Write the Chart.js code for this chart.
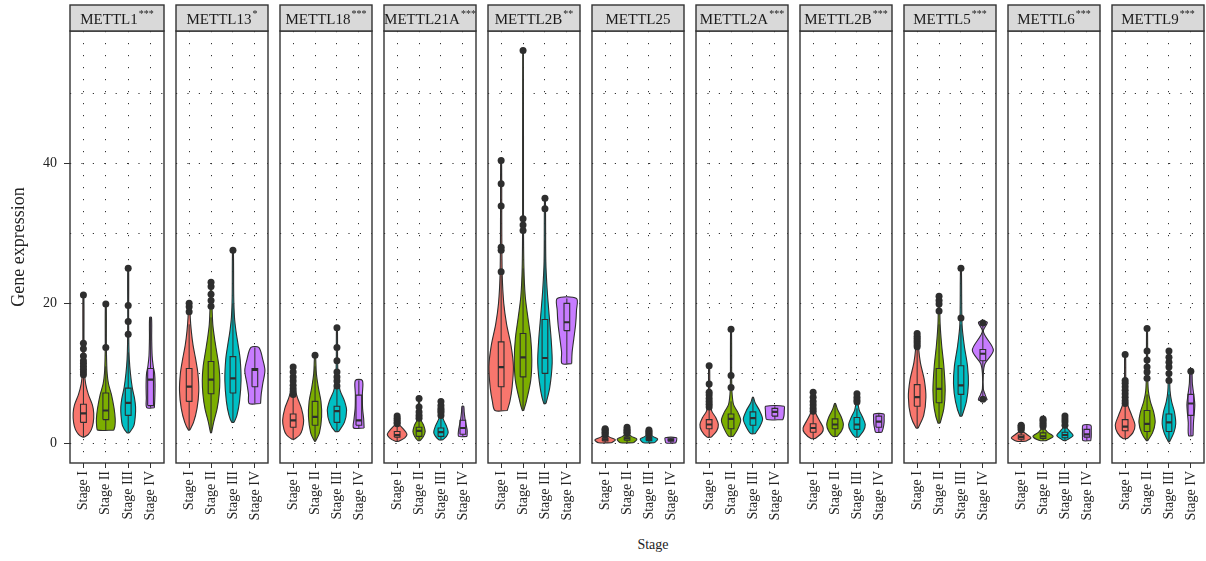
<!DOCTYPE html>
<html><head><meta charset="utf-8">
<script src="https://cdn.jsdelivr.net/npm/chart.js@4/dist/chart.umd.min.js"></script>
<style>
html,body{margin:0;padding:0;background:#fff;}
#wrap{position:relative;width:1206px;height:561px;overflow:hidden;background:#fff;}
#wrap canvas{position:absolute;top:0;}
#xtitle{position:absolute;top:537px;left:603px;width:100px;text-align:center;font:14px 'Liberation Serif',serif;color:#222;}
</style></head><body>
<div id="wrap"><div id="xtitle">Stage</div></div>
<script>
// ---------------- DATA ----------------
const stages = ['Stage I', 'Stage II', 'Stage III', 'Stage IV'];
const genes = ['METTL1','METTL13','METTL18','METTL21A','METTL2B','METTL25','METTL2A','METTL2B','METTL5','METTL6','METTL9'];
const signif = ['***','*','***','***','**','','***','***','***','***','***'];
const yTickValues = [0, 10, 20, 30, 40, 50];

// box stats per stage: [lower whisker, Q1, median, Q3, upper whisker]
const boxMETTL1   = [[0.9,3.0,4.3,5.6,9.5],[1.9,3.4,4.7,7.2,11],[1.5,4.0,5.8,7.9,13],[5.1,5.4,9.1,10.7,18]];
const boxMETTL13  = [[1.9,6.0,8.1,10.7,17],[1.5,7.1,9.1,11.7,18],[3.0,7.2,9.3,12.4,20],[5.7,8.1,10.5,10.7,13.7]];
const boxMETTL18  = [[0.6,2.3,3.3,4.2,6.8],[0.3,2.6,3.8,6.0,11],[1.7,3.0,4.6,5.3,8.0],[2.2,2.6,3.3,6.9,9.0]];
const boxMETTL21A = [[0.3,0.9,1.2,1.7,2.7],[0.4,1.0,1.8,2.3,3.5],[0.5,1.0,1.6,2.2,3.8],[1.0,1.3,2.2,3.3,5.3]];
const boxMETTL2Ba = [[4.7,8.1,10.9,14.5,24],[4.7,9.5,12.3,15.7,25],[5.7,10.0,12.2,17.7,29],[11.4,16.1,17.3,20.0,20.7]];
const boxMETTL25  = [[0.1,0.35,0.55,0.75,1.1],[0.1,0.45,0.7,0.9,1.3],[0.1,0.4,0.6,0.85,1.2],[0.05,0.3,0.5,0.65,0.8]];
const boxMETTL2A  = [[0.9,2.1,2.7,3.4,5.0],[1.0,2.1,3.5,4.2,6.0],[1.4,2.6,3.6,4.5,6.6],[3.4,3.9,4.5,5.0,5.3]];
const boxMETTL2Bb = [[0.7,1.6,2.2,2.8,4.5],[1.0,2.1,2.7,3.5,5.7],[0.9,2.0,2.7,3.7,5.0],[1.6,2.3,3.1,3.9,4.2]];
const boxMETTL5   = [[2.2,5.3,6.6,8.4,13.5],[2.9,5.8,7.8,10.7,17],[3.9,7.0,8.3,11.1,17],[6.3,11.8,12.8,13.4,17.3]];
const boxMETTL6   = [[0.3,0.6,0.9,1.2,1.8],[0.4,0.7,1.0,1.5,2.3],[0.4,0.8,1.2,1.6,2.4],[0.4,0.9,1.3,2.0,2.6]];
const boxMETTL9   = [[0.7,1.8,2.4,3.4,5.5],[0.4,1.7,2.8,4.7,7.0],[0.2,1.7,3.0,4.2,7.0],[1.1,4.0,5.7,7.0,10.4]];

// outliers per stage
const outMETTL1   = [[9.8,10.2,10.6,11.0,11.4,11.8,12.5,13.5,14.3,21.2],[13.7,19.9],[15.6,17.4,19.7,25.0],[]];
const outMETTL13  = [[18.8,19.5,20.0],[19.6,20.4,21.3,22.4,23.0],[27.6],[]];
const outMETTL18  = [[7.0,7.4,7.8,8.3,8.9,9.5,10.2,10.9],[12.6],[8.2,8.9,9.5,10.2,11.8,13.7,16.5],[]];
const outMETTL21A = [[2.8,3.0,3.3,3.6,3.9],[3.6,4.0,4.5,5.2,6.4],[4.0,4.4,4.7,5.0,5.4,6.0],[]];
const outMETTL2Ba = [[24.5,27.6,28.0,33.9,37.1,40.4],[30.4,31.2,32.1,56.1],[33.5,35.0],[]];
const outMETTL25  = [[1.2,1.4,1.6,1.8,2.0,2.1],[1.4,1.6,1.8,2.0,2.3],[1.3,1.5,1.7,1.9],[]];
const outMETTL2A  = [[5.2,5.6,6.0,6.4,6.9,7.3,8.5,11.1],[8.0,9.7,16.3],[],[]];
const outMETTL2Bb = [[4.6,5.0,5.5,6.0,6.6,7.3],[],[5.9,6.2,6.6,7.1],[]];
const outMETTL5   = [[13.8,14.1,14.4,14.7,15.0,15.3,15.7],[18.9,19.9,20.4,21.0],[17.9,25.0],[6.3,17.2]];
const outMETTL6   = [[1.9,2.1,2.3,2.5,2.6],[2.4,2.7,3.0,3.3,3.5],[2.6,3.1,3.5,3.9],[]];
const outMETTL9   = [[5.7,6.1,6.6,7.1,7.6,8.1,8.6,9.0,12.7],[9.3,10.2,10.9,11.9,13.2,16.4],[9.0,10.0,10.9,11.6,12.3,13.2],[10.3]];

// violin density profiles per stage: [expression value, half-width in stage units]
const vioMETTL1 = [
  [[0.9,0.04],[1.3,0.22],[2,0.36],[3,0.44],[4.3,0.46],[5.5,0.4],[7,0.22],[8.5,0.1],[10,0.05],[12,0.035],[15,0.025],[21.2,0.02]],
  [[1.9,0.36],[2.5,0.41],[3.5,0.42],[5,0.37],[7,0.25],[8.5,0.12],[10,0.06],[12,0.035],[14,0.025],[19.9,0.02]],
  [[1.5,0.05],[2.5,0.25],[4,0.32],[5.2,0.33],[6.5,0.28],[8,0.18],[10,0.1],[12,0.05],[14,0.03],[18,0.02],[25,0.02]],
  [[5.1,0.17],[6.5,0.19],[8.5,0.2],[10,0.18],[11,0.12],[12.5,0.07],[15,0.05],[18,0.04]]];
const vioMETTL13 = [
  [[1.9,0.03],[3,0.2],[5,0.36],[7.5,0.44],[10,0.4],[12,0.3],[14,0.18],[16,0.1],[18,0.05],[20,0.03]],
  [[1.5,0.02],[3,0.12],[5,0.28],[7,0.37],[9,0.4],[11,0.36],[13,0.26],[15,0.16],[17,0.08],[20,0.04],[23,0.02]],
  [[3,0.05],[4,0.18],[6,0.3],[9,0.37],[12,0.33],[14,0.24],[16,0.14],[18,0.07],[21,0.035],[27.6,0.02]],
  [[5.7,0.26],[7,0.29],[8.5,0.36],[10.4,0.46],[12,0.36],[13.7,0.18]]];
const vioMETTL18 = [
  [[0.6,0.05],[1.2,0.3],[2,0.42],[3.3,0.48],[5,0.38],[6.5,0.2],[8,0.07],[9.5,0.035],[10.9,0.02]],
  [[0.3,0.02],[1.5,0.2],[3.8,0.3],[6,0.27],[8,0.15],[10,0.06],[12.6,0.02]],
  [[1.7,0.08],[3,0.34],[4.7,0.44],[6,0.35],[7.5,0.15],[9,0.06],[12,0.03],[16.5,0.02]],
  [[2.2,0.24],[3.5,0.22],[5,0.17],[7,0.16],[9,0.16]]];
const vioMETTL21A = [
  [[0.3,0.08],[0.8,0.35],[1.3,0.45],[2,0.3],[2.7,0.1],[3.3,0.04],[3.9,0.02]],
  [[0.4,0.05],[1,0.2],[1.7,0.28],[2.5,0.22],[3.3,0.1],[4.5,0.04],[6.4,0.02]],
  [[0.5,0.08],[1,0.25],[1.6,0.33],[2.5,0.25],[3.5,0.1],[4.5,0.04],[6,0.02]],
  [[1.0,0.19],[1.8,0.2],[2.5,0.16],[3.5,0.1],[4.5,0.06],[5.3,0.04]]];
const vioMETTL2Ba = [
  [[4.7,0.28],[6,0.4],[8,0.5],[11,0.56],[14,0.45],[17,0.25],[20,0.12],[24,0.05],[30,0.03],[40.4,0.02]],
  [[4.7,0.03],[6,0.15],[9,0.35],[12,0.4],[15,0.35],[18,0.22],[21,0.1],[25,0.04],[32,0.02],[56.1,0.015]],
  [[5.7,0.05],[8,0.22],[11.5,0.33],[15,0.28],[18,0.2],[22,0.1],[26,0.04],[35,0.02]],
  [[11.4,0.22],[13,0.24],[15,0.32],[17,0.4],[19,0.44],[20.7,0.44]]];
const vioMETTL25 = [
  [[0.1,0.3],[0.5,0.47],[0.9,0.2],[1.3,0.06],[2.1,0.02]],
  [[0.1,0.3],[0.6,0.45],[1.0,0.2],[1.5,0.05],[2.3,0.02]],
  [[0.1,0.25],[0.6,0.4],[1.0,0.18],[1.4,0.05],[1.9,0.02]],
  [[0.05,0.22],[0.4,0.26],[0.8,0.26]]];
const vioMETTL2A = [
  [[0.9,0.1],[1.8,0.35],[2.7,0.42],[3.7,0.3],[4.6,0.12],[6,0.05],[8,0.03],[11.1,0.02]],
  [[1.0,0.1],[2,0.3],[3.3,0.44],[4.5,0.3],[5.5,0.12],[7,0.05],[9,0.03],[16.3,0.02]],
  [[1.4,0.1],[2.5,0.33],[3.5,0.44],[4.7,0.3],[5.8,0.1],[6.6,0.02]],
  [[3.4,0.37],[4,0.42],[4.7,0.43],[5.3,0.42]]];
const vioMETTL2Bb = [
  [[0.7,0.1],[1.5,0.4],[2.2,0.46],[3.2,0.3],[4.3,0.12],[5.5,0.04],[7.3,0.02]],
  [[1.0,0.1],[1.8,0.3],[2.7,0.38],[3.8,0.28],[4.8,0.12],[5.7,0.02]],
  [[0.9,0.08],[1.8,0.3],[2.7,0.38],[3.8,0.25],[4.8,0.1],[6,0.04],[7.1,0.02]],
  [[1.6,0.14],[2.2,0.2],[3,0.24],[3.7,0.24],[4.2,0.23]]];
const vioMETTL5 = [
  [[2.2,0.05],[4,0.3],[6.6,0.4],[9,0.33],[11.5,0.15],[13.5,0.07],[15.7,0.04]],
  [[2.9,0.05],[5,0.22],[7.6,0.28],[11,0.22],[14,0.12],[17,0.05],[21,0.02]],
  [[3.9,0.05],[6,0.25],[8.5,0.34],[11,0.3],[14,0.15],[17,0.05],[25,0.02]],
  [[6.2,0.2],[7,0.1],[7.8,0.02],[10,0.02],[11.4,0.1],[13.3,0.48],[15.4,0.1],[16.1,0.02],[17.3,0.2]]];
const vioMETTL6 = [
  [[0.3,0.2],[0.8,0.45],[1.3,0.25],[1.8,0.06],[2.6,0.02]],
  [[0.4,0.15],[1,0.46],[1.6,0.2],[2.3,0.05],[3.5,0.02]],
  [[0.4,0.05],[1.1,0.37],[1.8,0.2],[2.4,0.05],[3.9,0.02]],
  [[0.4,0.18],[1,0.2],[1.8,0.2],[2.6,0.18]]];
const vioMETTL9 = [
  [[0.7,0.1],[1.5,0.35],[2.6,0.45],[4,0.3],[5.5,0.12],[7,0.05],[9,0.03],[12.7,0.02]],
  [[0.4,0.03],[1.5,0.25],[3,0.37],[4.5,0.3],[6,0.15],[7.5,0.06],[10,0.03],[16.4,0.02]],
  [[0.2,0.02],[1.5,0.22],[2.8,0.31],[4.5,0.25],[6,0.12],[7.5,0.05],[10,0.03],[13.2,0.02]],
  [[1.1,0.1],[3,0.12],[5.5,0.18],[7,0.13],[8.5,0.07],[10.4,0.04]]];

const boxStats = [boxMETTL1, boxMETTL13, boxMETTL18, boxMETTL21A, boxMETTL2Ba, boxMETTL25, boxMETTL2A, boxMETTL2Bb, boxMETTL5, boxMETTL6, boxMETTL9];
const outliers = [outMETTL1, outMETTL13, outMETTL18, outMETTL21A, outMETTL2Ba, outMETTL25, outMETTL2A, outMETTL2Bb, outMETTL5, outMETTL6, outMETTL9];
const violins = [vioMETTL1, vioMETTL13, vioMETTL18, vioMETTL21A, vioMETTL2Ba, vioMETTL25, vioMETTL2A, vioMETTL2Bb, vioMETTL5, vioMETTL6, vioMETTL9];

// ---------------- STYLE ----------------
const stageFill = ['#F8766D', '#7CAE00', '#00BFC4', '#C77CFF'];
const EDGE = '#2e2e2e';
const GRID = 'rgba(40,40,40,0.95)';
const FONT = "'Liberation Serif', 'DejaVu Serif', serif";
const BOX_HALF = 0.13;
const PANEL_W = 96, PANEL_STEP = 104, FIRST_LEFT = 70, YAXIS_W = 70;
const PLOT_TOP = 31, STRIP_TOP = 5, XAXIS_H = 98, H = 561;

const panelDecor = {
  id: 'panelDecor',
  afterDraw(chart, args, opts) {
    const {ctx, chartArea: a} = chart;
    ctx.save();
    ctx.lineWidth = 1.4;
    ctx.strokeStyle = '#333';
    ctx.strokeRect(a.left, a.top, a.right - a.left, a.bottom - a.top);
    ctx.fillStyle = '#d9d9d9';
    ctx.fillRect(a.left, STRIP_TOP, a.right - a.left, a.top - STRIP_TOP);
    ctx.strokeRect(a.left, STRIP_TOP, a.right - a.left, a.top - STRIP_TOP);
    const cx = (a.left + a.right) / 2;
    ctx.font = '15px ' + FONT;
    const w1 = ctx.measureText(opts.gene).width;
    ctx.font = '10px ' + FONT;
    const w2 = opts.sig ? ctx.measureText(opts.sig).width + 1 : 0;
    const x0 = cx - (w1 + w2) / 2;
    ctx.fillStyle = '#1a1a1a';
    ctx.textBaseline = 'alphabetic';
    ctx.textAlign = 'left';
    ctx.font = '15px ' + FONT;
    ctx.fillText(opts.gene, x0, 23.5);
    if (opts.sig) {
      ctx.font = '10px ' + FONT;
      ctx.fillText(opts.sig, x0 + w1 + 1, 17);
    }
    ctx.restore();
  }
};

function buildDatasets(i) {
  const ds = [];
  violins[i].forEach((prof, k) => {
    const c = k + 1;
    const right = prof.map(([v, w]) => ({x: c + w, y: v}));
    const left = prof.slice().reverse().map(([v, w]) => ({x: c - w, y: v}));
    const pts = right.concat(left);
    pts.push({x: right[0].x, y: right[0].y});
    ds.push({data: pts, backgroundColor: stageFill[k], borderColor: EDGE, borderWidth: 1.1,
      fill: 'shape', tension: 0.3, pointRadius: 0, borderJoinStyle: 'round', order: 5});
  });
  const wh = [], bx = [], md = [];
  boxStats[i].forEach(([lo, q1, med, q3, hi], k) => {
    const c = k + 1;
    wh.push({x: c, y: lo}, {x: c, y: q1}, {x: c, y: null}, {x: c, y: q3}, {x: c, y: hi}, {x: c, y: null});
    bx.push({x: c - BOX_HALF, y: q1}, {x: c + BOX_HALF, y: q1}, {x: c + BOX_HALF, y: q3},
            {x: c - BOX_HALF, y: q3}, {x: c - BOX_HALF, y: q1}, {x: c, y: null});
    md.push({x: c - BOX_HALF, y: med}, {x: c + BOX_HALF, y: med}, {x: c, y: null});
  });
  ds.push({data: wh, borderColor: EDGE, borderWidth: 1, fill: false, pointRadius: 0, tension: 0, order: 4});
  ds.push({data: bx, borderColor: EDGE, borderWidth: 1.1, fill: false, pointRadius: 0, tension: 0, borderJoinStyle: 'miter', order: 3});
  ds.push({data: md, borderColor: EDGE, borderWidth: 2.2, fill: false, pointRadius: 0, tension: 0, order: 2});
  const op = [];
  outliers[i].forEach((arr, k) => arr.forEach(v => op.push({x: k + 1, y: v})));
  ds.push({data: op, showLine: false, pointRadius: 3.5, pointBackgroundColor: EDGE, pointBorderWidth: 0, order: 1});
  return ds;
}

const wrap = document.getElementById('wrap');
genes.forEach((gene, i) => {
  const first = i === 0;
  const L = Math.round(FIRST_LEFT + PANEL_STEP * i);
  const canvas = document.createElement('canvas');
  const cw = first ? YAXIS_W + PANEL_W + 2 : PANEL_W + 4;
  canvas.width = cw; canvas.height = H;
  canvas.style.left = (first ? 0 : L - 2) + 'px';
  canvas.style.width = cw + 'px'; canvas.style.height = H + 'px';
  wrap.appendChild(canvas);
  new Chart(canvas, {
    type: 'line',
    data: {datasets: buildDatasets(i)},
    plugins: [panelDecor],
    options: {
      responsive: false, animation: false, events: [],
      devicePixelRatio: 1,
      layout: {padding: {top: PLOT_TOP, left: first ? 0 : 2, right: 2, bottom: 0}},
      plugins: {legend: {display: false}, tooltip: {enabled: false}, panelDecor: {gene: gene, sig: signif[i]}},
      scales: {
        x: {
          type: 'linear', min: 0.4, max: 4.6,
          afterBuildTicks: s => { s.ticks = stages.map((_, k) => ({value: k + 1})); },
          afterFit: s => { s.height = XAXIS_H; s.paddingLeft = 0; s.paddingRight = 0; },
          ticks: {autoSkip: false, minRotation: 90, maxRotation: 90, padding: 3, color: '#222',
                  font: {family: FONT, size: 14},
                  callback: v => stages[Math.round(v) - 1]},
          grid: {color: GRID, lineWidth: 1, drawTicks: true, tickLength: 5, tickColor: '#333', tickWidth: 1},
          border: {display: false, dash: [1.2, 10.8]}
        },
        y: {
          type: 'linear', min: -2.8, max: 58.9,
          afterBuildTicks: s => { s.ticks = yTickValues.map(v => ({value: v})); },
          afterFit: s => { s.width = first ? YAXIS_W : 0; s.paddingTop = 0; s.paddingBottom = 0; },
          ticks: {display: first, padding: 7, color: '#222', font: {family: FONT, size: 14},
                  callback: v => (v % 20 === 0 ? String(v) : '')},
          grid: {color: GRID, lineWidth: 1, drawTicks: first, tickLength: 6, tickWidth: 1,
                 tickColor: c => (c.tick && c.tick.value % 20 === 0 ? '#333' : 'rgba(0,0,0,0)')},
          border: {display: false, dash: [1.2, 10.2]},
          title: {display: first, text: 'Gene expression', color: '#222', font: {family: FONT, size: 18},
                  padding: {top: 8, bottom: 0}}
        }
      }
    }
  });
});
</script>
</body></html>
